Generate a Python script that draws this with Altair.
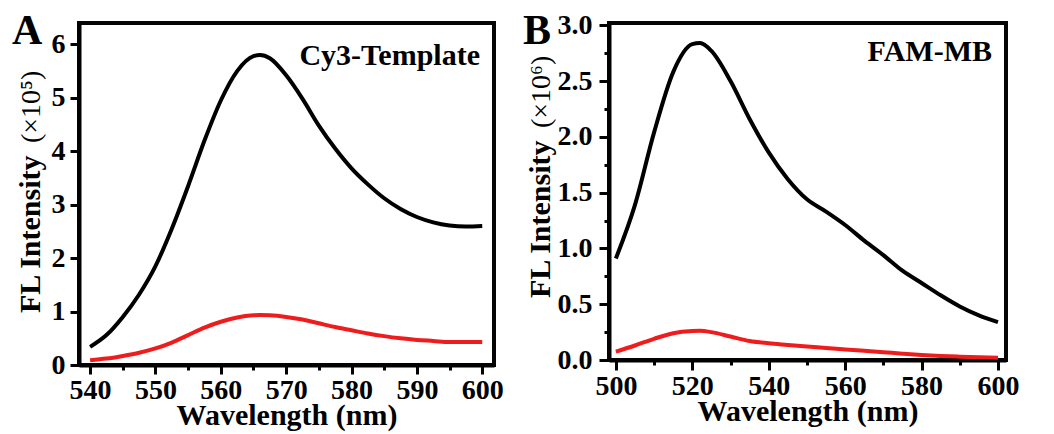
import altair as alt
import pandas as pd

# Panel A (Cy3-Template), intensity in 1e5
a_wl = [540, 542.5, 545, 547.5, 550, 552.5, 555, 557.5, 560, 562.5, 565, 566, 567.5, 570,
        572.5, 575, 577.5, 580, 582.5, 585, 587.5, 590, 592.5, 595, 597.5, 600]
a_black = [0.34, 0.56, 0.90, 1.32, 1.85, 2.55, 3.35, 4.20, 4.95, 5.50, 5.78, 5.80, 5.74, 5.42,
           4.98, 4.48, 4.05, 3.68, 3.38, 3.12, 2.92, 2.77, 2.67, 2.61, 2.59, 2.60]
a_red = [0.09, 0.12, 0.17, 0.23, 0.31, 0.42, 0.56, 0.70, 0.81, 0.89, 0.93, 0.935, 0.93, 0.90,
         0.85, 0.78, 0.71, 0.65, 0.59, 0.54, 0.50, 0.47, 0.45, 0.43, 0.43, 0.43]

# Panel B (FAM-MB), intensity in 1e6
b_wl = [500, 505, 510, 515, 520, 522, 525, 530, 535, 540, 545, 550, 555, 560, 565, 570,
        575, 580, 585, 590, 595, 600]
b_black = [0.91, 1.39, 2.04, 2.58, 2.83, 2.84, 2.77, 2.50, 2.16, 1.86, 1.62, 1.44, 1.33,
           1.21, 1.07, 0.94, 0.80, 0.69, 0.58, 0.48, 0.40, 0.34]
b_red = [0.075, 0.13, 0.19, 0.24, 0.26, 0.262, 0.25, 0.21, 0.17, 0.15, 0.135, 0.12, 0.108,
         0.095, 0.082, 0.07, 0.057, 0.045, 0.036, 0.03, 0.025, 0.02]

# tick values (major + minor) and the step of the labelled (major) ticks
a_xticks = [540, 545, 550, 555, 560, 565, 570, 575, 580, 585, 590, 595, 600]
a_yticks = [0, 0.5, 1, 1.5, 2, 2.5, 3, 3.5, 4, 4.5, 5, 5.5, 6]
b_xticks = [500, 510, 520, 530, 540, 550, 560, 570, 580, 590, 600]
b_yticks = [0, 0.25, 0.5, 0.75, 1.0, 1.25, 1.5, 1.75, 2.0, 2.25, 2.5, 2.75, 3.0]

FONT = "Liberation Serif"
RED = "#ee1c1c"


def major_axis(values, step, fmt, big, orient, lpad, title=None, tpad=0):
    test = f"abs(datum.value / {step} - round(datum.value / {step})) < 1e-6"
    kw = dict(values=values, orient=orient, labelPadding=lpad, grid=False,
              tickSize={"condition": {"test": test, "value": big}, "value": 5},
              labelExpr=f"{test} ? datum.label : ''")
    if fmt:
        kw["format"] = fmt
    if title:
        kw["title"] = title
        kw["titlePadding"] = tpad
    else:
        kw["title"] = None
    return alt.Axis(**kw)


def panel(df_wl, black, red, xdom, ydom, xt, xstep, yt, ystep, yfmt, unit, label, letter,
          w, h, letter_x, label_y, tsize, lpad, title_x, fl_y, unit_y):
    df = pd.DataFrame({"wl": df_wl * 2, "v": black + red,
                       "s": ["black"] * len(black) + ["red"] * len(red)})
    xs = alt.Scale(domain=xdom, nice=False, zero=False)
    ys = alt.Scale(domain=ydom, nice=False, zero=False)
    lines = alt.Chart(df).mark_line(strokeWidth=4, interpolate="monotone").encode(
        x=alt.X("wl:Q", scale=xs,
                axis=major_axis(xt, xstep, "d", tsize, "bottom", 2, "Wavelength (nm)", -4)),
        y=alt.Y("v:Q", scale=ys, axis=major_axis(yt, ystep, yfmt, tsize, "left", lpad)),
        color=alt.Color("s:N", scale=alt.Scale(domain=["black", "red"], range=["#000000", RED]),
                        legend=None),
        detail="s:N",
    )
    one = pd.DataFrame({"t": [label]})
    top = alt.Chart(one).mark_rule(color="#050505", strokeWidth=4).encode(
        x=alt.value(0), x2=alt.value(w), y=alt.value(0))
    right = alt.Chart(one).mark_rule(color="#050505", strokeWidth=4).encode(
        x=alt.value(w), y=alt.value(0), y2=alt.value(h))
    txt = alt.Chart(one).mark_text(
        font=FONT, fontWeight="bold", fontSize=30, align="right", baseline="middle"
    ).encode(text="t:N", x=alt.value(w - 14), y=alt.value(label_y))
    let = alt.Chart(pd.DataFrame({"t": [letter]})).mark_text(
        font=FONT, fontWeight="bold", fontSize=42, align="left", baseline="alphabetic"
    ).encode(text="t:N", x=alt.value(letter_x), y=alt.value(21))
    fl = alt.Chart(pd.DataFrame({"t": ["FL Intensity"]})).mark_text(
        font=FONT, fontWeight="bold", fontSize=30, align="left", baseline="alphabetic",
        angle=270
    ).encode(text="t:N", x=alt.value(title_x), y=alt.value(fl_y))
    un = alt.Chart(pd.DataFrame({"t": [unit]})).mark_text(
        font=FONT, fontWeight="normal", fontSize=28, align="left", baseline="alphabetic",
        angle=270
    ).encode(text="t:N", x=alt.value(title_x), y=alt.value(unit_y))
    return alt.layer(lines, top, right, txt, let, fl, un).properties(width=w, height=h)


pA = panel(a_wl, a_black, a_red, [538.3, 601.8], [0, 6.4], a_xticks, 10, a_yticks, 1, "d",
           "(×10⁵)", "Cy3-Template", "A", 415, 342, -67, 33, 9, 5, -39, 290, 120)
pB = panel(b_wl, b_black, b_red, [498.2, 602.1], [0, 3.02], b_xticks, 20, b_yticks, 0.5,
           ".1f", "(×10⁶)", "FAM-MB", "B", 397, 337, -86, 29, 10, 7, -59, 275, 105)

chart = alt.hconcat(pA, pB, spacing=15).properties(
    padding={"left": 2, "top": 0, "right": 0, "bottom": 0}
).configure_view(stroke="#050505", strokeWidth=4).configure_axis(
    domainColor="black", domainWidth=4, tickColor="black", tickWidth=3,
    labelFont=FONT, labelFontWeight="bold", labelFontSize=28, labelColor="black",
    titleFont=FONT, titleFontWeight="bold", titleFontSize=30, titleColor="black"
)

chart.save("out.html", embed_options={"renderer": "svg", "actions": False})
